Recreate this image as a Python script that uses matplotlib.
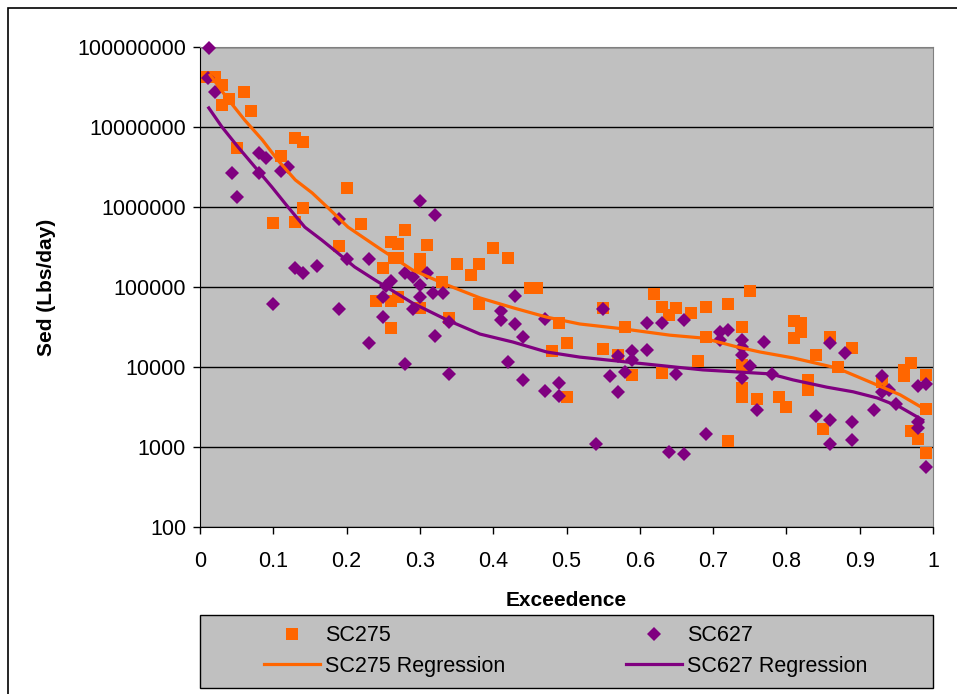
import matplotlib
matplotlib.use("Agg")
import matplotlib.pyplot as plt
import matplotlib.ticker as mticker
from matplotlib.patches import Rectangle

plt.rcParams['font.family'] = ['Liberation Sans', 'DejaVu Sans']

# SC275 observations (exceedence, sed lbs/day)
sc275_x = [0.01, 0.02, 0.03, 0.04, 0.03, 0.06, 0.07, 0.05, 0.13, 0.14,
           0.11, 0.20, 0.14, 0.10, 0.13, 0.22, 0.19, 0.26, 0.25, 0.24,
           0.26, 0.26, 0.265, 0.28, 0.27, 0.31, 0.27, 0.30, 0.30, 0.35,
           0.38, 0.37, 0.40, 0.42, 0.33, 0.27, 0.30, 0.38, 0.45, 0.46,
           0.34, 0.49, 0.48, 0.50, 0.50, 0.55, 0.58, 0.55, 0.57, 0.59,
           0.62, 0.63, 0.64, 0.65, 0.67, 0.69, 0.72, 0.75, 0.63, 0.68,
           0.69, 0.74, 0.74, 0.74, 0.74, 0.76, 0.72, 0.81, 0.82, 0.82,
           0.81, 0.86, 0.89, 0.84, 0.87, 0.83, 0.83, 0.79, 0.80, 0.85,
           0.96, 0.97, 0.96, 0.99, 0.99, 0.97, 0.98, 0.99, 0.93]
sc275_y = [4.2e7, 4.2e7, 3.35e7, 2.24e7, 1.9e7, 2.7e7, 1.6e7, 5.5e6, 7.3e6, 6.5e6,
           4.3e6, 1.73e6, 9.7e5, 6.3e5, 6.5e5, 6.1e5, 3.25e5, 3.65e5, 1.73e5, 6.7e4,
           6.7e4, 3.07e4, 2.3e5, 5.2e5, 3.45e5, 3.35e5, 2.3e5, 2.24e5, 1.78e5, 1.94e5,
           1.94e5, 1.41e5, 3.07e5, 2.3e5, 1.15e5, 7.5e4, 5.5e4, 6.1e4, 9.7e4, 9.7e4,
           4.1e4, 3.55e4, 1.58e4, 2.0e4, 4.2e3, 5.5e4, 3.2e4, 1.68e4, 1.41e4, 7.9e3,
           8.2e4, 5.6e4, 4.5e4, 5.5e4, 4.7e4, 5.6e4, 6.1e4, 8.9e4, 8.4e3, 1.19e4,
           2.37e4, 3.2e4, 1.06e4, 5.5e3, 4.2e3, 4.0e3, 1.19e3, 3.76e4, 3.55e4, 2.74e4,
           2.3e4, 2.37e4, 1.73e4, 1.41e4, 1.0e4, 6.9e3, 5.2e3, 4.2e3, 3.2e3, 1.68e3,
           9.2e3, 1.12e4, 7.7e3, 7.9e3, 3.0e3, 1.58e3, 1.26e3, 8.4e2, 6.5e3]

# SC627 observations
sc627_x = [0.012, 0.011, 0.02, 0.08, 0.09, 0.044, 0.08, 0.11, 0.12, 0.05,
           0.19, 0.20, 0.23, 0.13, 0.14, 0.16, 0.10, 0.19, 0.23, 0.25,
           0.25, 0.254, 0.26, 0.30, 0.32, 0.28, 0.29, 0.30, 0.31, 0.30,
           0.318, 0.332, 0.29, 0.32, 0.34, 0.28, 0.34, 0.43, 0.41, 0.41,
           0.43, 0.44, 0.47, 0.42, 0.44, 0.47, 0.49, 0.49, 0.55, 0.61,
           0.63, 0.66, 0.57, 0.59, 0.59, 0.61, 0.56, 0.58, 0.57, 0.65,
           0.71, 0.72, 0.71, 0.74, 0.74, 0.74, 0.75, 0.74, 0.77, 0.76,
           0.54, 0.64, 0.66, 0.69, 0.86, 0.88, 0.78, 0.84, 0.86, 0.89,
           0.86, 0.89, 0.93, 0.93, 0.94, 0.92, 0.95, 0.98, 0.99, 0.98,
           0.98, 0.99]
sc627_y = [9.7e7, 4.1e7, 2.74e7, 4.7e6, 4.1e6, 2.66e6, 2.66e6, 2.8e6, 3.16e6, 1.33e6,
           7.1e5, 2.24e5, 2.24e5, 1.73e5, 1.5e5, 1.83e5, 6.1e4, 5.3e4, 2.0e4, 7.5e4,
           4.2e4, 1.03e5, 1.19e5, 1.19e6, 7.9e5, 1.5e5, 1.33e5, 1.06e5, 1.5e5, 7.5e4,
           8.4e4, 8.4e4, 5.3e4, 2.44e4, 3.65e4, 1.09e4, 8.2e3, 7.7e4, 5.0e4, 3.87e4,
           3.45e4, 2.37e4, 4.0e4, 1.15e4, 6.9e3, 5.0e3, 6.3e3, 4.3e3, 5.3e4, 3.55e4,
           3.55e4, 3.87e4, 1.37e4, 1.58e4, 1.22e4, 1.63e4, 7.7e3, 8.7e3, 4.9e3, 8.2e3,
           2.74e4, 2.9e4, 2.17e4, 2.17e4, 1.78e4, 1.41e4, 1.03e4, 7.3e3, 2.05e4, 2.9e3,
           1.09e3, 8.7e2, 8.2e2, 1.45e3, 2.0e4, 1.5e4, 8.2e3, 2.44e3, 2.17e3, 2.05e3,
           1.09e3, 1.22e3, 7.7e3, 4.9e3, 5.2e3, 2.9e3, 3.45e3, 5.8e3, 6.1e3, 2.05e3,
           1.73e3, 5.6e2]

# regression curves
reg275_x = [0.014, 0.037, 0.061, 0.085, 0.106, 0.13, 0.153, 0.175, 0.202, 0.248,
            0.29, 0.337, 0.382, 0.427, 0.473, 0.518, 0.577, 0.641, 0.686, 0.733,
            0.764, 0.809, 0.869, 0.914, 0.955, 0.986]
reg275_y = [4.47e7, 2.3e7, 1.22e7, 6.9e6, 3.87e6, 2.18e6, 1.5e6, 9.7e5, 5.6e5, 2.9e5,
            1.63e5, 1.06e5, 7.3e4, 5.5e4, 4.2e4, 3.45e4, 3.0e4, 2.5e4, 2.3e4, 1.78e4,
            1.54e4, 1.3e4, 9.7e3, 6.5e3, 4.5e3, 3.07e3]
reg627_x = [0.012, 0.03, 0.052, 0.075, 0.098, 0.12, 0.143, 0.166, 0.188, 0.211,
            0.239, 0.29, 0.337, 0.382, 0.427, 0.473, 0.518, 0.596, 0.686, 0.778,
            0.809, 0.855, 0.891, 0.924, 0.955, 0.986]
reg627_y = [1.73e7, 1.0e7, 5.6e6, 3.16e6, 1.78e6, 1.0e6, 5.6e5, 3.87e5, 2.66e5, 1.78e5,
            1.22e5, 6.3e4, 3.87e4, 2.58e4, 2.05e4, 1.54e4, 1.33e4, 1.12e4, 9.2e3, 8.2e3,
            6.9e3, 5.6e3, 4.9e3, 4.1e3, 3.16e3, 2.17e3]

ORANGE = "#FF6600"
PURPLE = "#800080"

W, H = 957, 694
fig = plt.figure(figsize=(W / 100, H / 100), dpi=100)
fig.patch.set_facecolor("white")

# outer chart border (Excel style)
fig.patches.append(Rectangle((8 / W, -0.05), 1.1, 1 - 8 / H + 0.05, transform=fig.transFigure,
                             fill=False, edgecolor="black", linewidth=1.2))
# legend box
fig.patches.append(Rectangle((200 / W, 1 - 688 / H), 733 / W, 73 / H, transform=fig.transFigure,
                             facecolor="#C0C0C0", edgecolor="black", linewidth=1.0))

ax = fig.add_axes([200 / W, 1 - 527 / H, 733 / W, 480 / H])
ax.set_facecolor("#C0C0C0")

ax.plot(sc275_x, sc275_y, linestyle="none", marker="s", markersize=8.5, color=ORANGE,
        markeredgewidth=0, label="SC275", clip_on=False, zorder=3)
ax.plot(sc627_x, sc627_y, linestyle="none", marker="D", markersize=7.2, color=PURPLE,
        markeredgewidth=0, label="SC627", clip_on=False, zorder=4)
ax.plot(reg275_x, reg275_y, color=ORANGE, linewidth=2.3, label="SC275 Regression", zorder=5)
ax.plot(reg627_x, reg627_y, color=PURPLE, linewidth=2.3, label="SC627 Regression", zorder=5)

ax.set_yscale("log")
ax.set_ylim(100, 1e8)
ax.set_xlim(0, 1)
ax.yaxis.set_major_locator(mticker.LogLocator(base=10, numticks=10))
ax.yaxis.set_minor_locator(mticker.NullLocator())
ax.yaxis.set_major_formatter(mticker.FuncFormatter(lambda v, p: "%d" % round(v)))
ax.set_xticks([i / 10 for i in range(11)])
ax.xaxis.set_major_formatter(mticker.FuncFormatter(lambda v, p: "%g" % round(v, 1)))

ax.grid(True, axis="y", color="black", linewidth=1.0)
ax.set_axisbelow(True)
for side in ["top", "right"]:
    ax.spines[side].set_color("#808080")
ax.spines["left"].set_color("black")
ax.spines["bottom"].set_color("black")

ax.tick_params(axis="both", direction="out", length=5, width=1, labelsize=15.5)
ax.tick_params(axis="x", pad=12)
ax.tick_params(axis="y", pad=5)

ax.set_xlabel("Exceedence", fontsize=15, fontweight="bold", labelpad=14)
ax.set_ylabel("Sed (Lbs/day)", fontsize=15, fontweight="bold", labelpad=15)

handles, labels = ax.get_legend_handles_labels()
order = [0, 2, 1, 3]
leg = fig.legend([handles[i] for i in order], [labels[i] for i in order],
                 loc="center left", ncol=2,
                 bbox_to_anchor=(255 / W, 1 - 651 / H),
                 fontsize=15.5, frameon=False, markerscale=1.0,
                 handlelength=2.6, handletextpad=0.25, borderaxespad=0,
                 labelspacing=0.45, columnspacing=5.6)

fig.savefig("out.png", dpi=100)
